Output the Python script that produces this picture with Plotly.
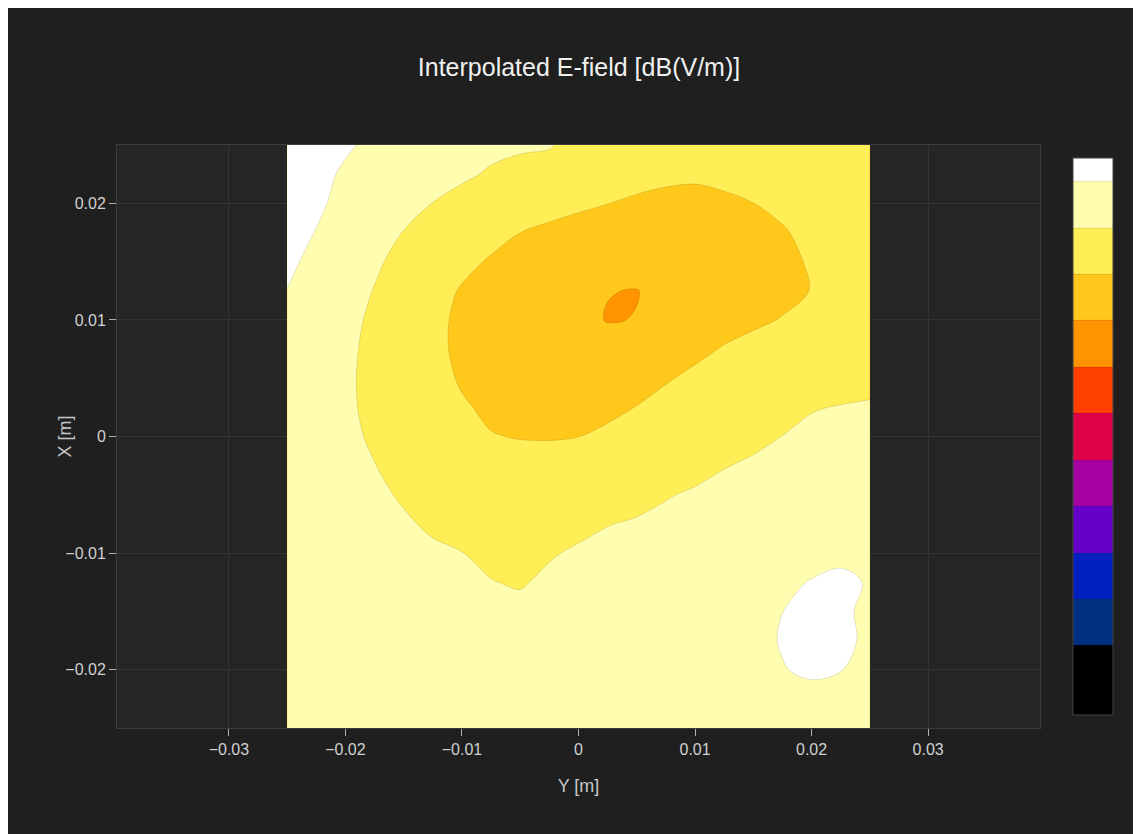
import plotly.graph_objects as go

# Grid positions of the interpolated field (metres)
y_positions_m = [-0.025, -0.0225, -0.02, -0.0175, -0.015, -0.0125, -0.01, -0.0075, -0.005, -0.0025,
                 0.0, 0.0025, 0.005, 0.0075, 0.01, 0.0125, 0.015, 0.0175, 0.02, 0.0225, 0.025]
x_positions_m = [-0.025, -0.0225, -0.02, -0.0175, -0.015, -0.0125, -0.01, -0.0075, -0.005, -0.0025,
                 0.0, 0.0025, 0.005, 0.0075, 0.01, 0.0125, 0.015, 0.0175, 0.02, 0.0225, 0.025]

# E-field [dB(V/m)], rows listed from X = +0.025 m (top) down to X = -0.025 m (bottom),
# columns from Y = -0.025 m (left) to Y = +0.025 m (right)
e_field_rows_top_to_bottom = [
    [43.0, 41.7, 40.5, 39.1, 38.0, 37.1, 36.3, 35.8, 35.5, 35.33, 33.4, 32.8, 32.4, 32.0, 31.9, 32.1, 32.7, 33.3, 33.7, 34.2, 34.6],
    [42.4, 41.1, 39.46, 38.63, 37.6, 36.57, 35.54, 34.64, 33.9, 33.1, 32.2, 31.45, 30.98, 30.6, 30.42, 30.68, 31.3, 31.9, 32.6, 33.3, 34.1],
    [41.8, 40.53, 39.1, 37.74, 36.36, 34.95, 33.9, 32.8, 31.84, 31.08, 30.5, 30.04, 29.55, 29.24, 29.19, 29.52, 29.98, 30.74, 31.57, 32.55, 33.7],
    [41.2, 39.9, 38.21, 36.56, 34.9, 33.6, 32.26, 31.12, 30.01, 29.4, 28.94, 28.5, 28.1, 27.98, 28.13, 28.64, 29.2, 29.72, 30.84, 31.95, 33.1],
    [40.6, 39.2, 37.32, 35.56, 33.89, 32.31, 30.91, 29.65, 29.0, 28.21, 27.54, 26.93, 26.6, 26.81, 27.27, 27.91, 28.59, 29.45, 30.23, 31.48, 32.7],
    [39.95, 38.31, 36.59, 34.86, 33.2, 31.41, 29.7, 29.07, 28.23, 27.39, 26.47, 25.09, 24.9, 26.02, 27.35, 28.15, 28.75, 29.32, 30.07, 31.26, 32.5],
    [38.7, 37.32, 35.93, 34.41, 32.63, 30.7, 29.45, 28.63, 27.74, 26.93, 25.94, 24.85, 25.09, 26.94, 28.02, 28.96, 29.56, 30.12, 30.8, 31.69, 32.6],
    [38.4, 37.0, 35.67, 34.17, 32.52, 30.65, 29.45, 28.66, 27.76, 27.01, 26.6, 26.38, 27.03, 28.2, 29.32, 30.19, 30.77, 31.38, 32.16, 32.6, 33.2],
    [38.2, 36.88, 35.53, 34.11, 32.61, 31.0, 29.7, 29.0, 28.3, 27.76, 27.66, 27.93, 28.62, 29.75, 30.59, 31.35, 32.02, 32.66, 33.38, 33.8, 34.25],
    [38.0, 36.93, 35.58, 34.2, 32.86, 31.49, 30.3, 29.5, 29.05, 28.75, 28.79, 29.29, 30.08, 30.92, 31.75, 32.51, 33.2, 33.9, 34.85, 35.12, 35.27],
    [38.0, 36.86, 35.73, 34.56, 33.33, 32.19, 31.2, 30.12, 29.88, 29.81, 29.98, 30.6, 31.44, 32.17, 32.9, 33.64, 34.32, 35.04, 35.56, 35.99, 36.13],
    [37.9, 36.97, 36.02, 35.07, 33.95, 32.83, 32.0, 31.38, 31.02, 31.17, 31.42, 31.98, 32.77, 33.49, 34.17, 34.88, 35.41, 35.91, 36.38, 36.9, 37.03],
    [37.9, 37.12, 36.34, 35.55, 34.69, 33.7, 33.02, 32.44, 32.21, 32.51, 32.84, 33.39, 34.11, 34.83, 35.33, 35.82, 36.34, 36.83, 37.24, 37.67, 37.9],
    [37.9, 37.26, 36.62, 35.98, 35.34, 34.61, 34.0, 33.47, 33.25, 33.7, 34.27, 34.92, 35.28, 35.67, 36.15, 36.7, 37.26, 37.75, 38.16, 38.5, 38.79],
    [37.95, 37.4, 36.91, 36.41, 35.83, 35.42, 35.05, 34.34, 34.05, 34.75, 35.38, 35.77, 36.0, 36.34, 36.83, 37.43, 38.04, 38.66, 39.11, 39.55, 39.7],
    [38.05, 37.65, 37.2, 36.8, 36.37, 36.01, 35.58, 35.09, 34.75, 35.55, 35.96, 36.3, 36.6, 36.89, 37.42, 38.0, 38.69, 39.49, 40.12, 40.42, 39.85],
    [38.15, 37.77, 37.39, 37.02, 36.7, 36.42, 35.99, 35.7, 35.75, 35.76, 36.3, 36.7, 36.93, 37.34, 37.85, 38.43, 39.11, 39.98, 41.08, 40.55, 39.35],
    [38.2, 37.85, 37.57, 37.28, 37.0, 36.71, 36.41, 36.13, 36.06, 36.2, 36.5, 36.9, 37.24, 37.65, 38.11, 38.66, 39.31, 40.15, 41.36, 40.66, 39.46],
    [38.25, 37.95, 37.7, 37.45, 37.2, 36.98, 36.77, 36.62, 36.58, 36.7, 36.9, 37.2, 37.5, 37.85, 38.2, 38.68, 39.23, 39.9, 40.36, 40.07, 39.15],
    [38.3, 38.0, 37.8, 37.6, 37.4, 37.2, 37.05, 36.95, 36.95, 37.05, 37.2, 37.45, 37.75, 38.05, 38.2, 38.5, 38.75, 39.0, 39.3, 39.15, 38.6],
    [38.35, 38.1, 37.9, 37.7, 37.55, 37.4, 37.3, 37.2, 37.2, 37.3, 37.45, 37.65, 37.9, 38.1, 38.3, 38.45, 38.6, 38.7, 38.75, 38.6, 38.2],
]

# Contour levels and band colours (lowest band first)
contour_start = -10
contour_end = 40
contour_step = 5
colorbar_min = -17.5
colorbar_max = 42.5
band_colors = ["#000000", "#003080", "#0020c0", "#6400c8", "#a500a0", "#e00048",
               "#ff4000", "#ff9400", "#ffc81a", "#ffee55", "#fffdb0", "#ffffff"]

x_tick_values = [-0.03, -0.02, -0.01, 0, 0.01, 0.02, 0.03]
y_tick_values = [-0.02, -0.01, 0, 0.01, 0.02]

colorscale = [[i / (len(band_colors) - 1), c] for i, c in enumerate(band_colors)]

fig = go.Figure(
    go.Contour(
        x=y_positions_m,
        y=x_positions_m,
        z=e_field_rows_top_to_bottom[::-1],
        colorscale=colorscale,
        autocontour=False,
        contours=dict(start=contour_start, end=contour_end, size=contour_step,
                      coloring="fill", showlines=True),
        line=dict(width=0.5, color="rgba(0,0,0,0.22)", smoothing=1.0),
        zmin=colorbar_min,
        zmax=colorbar_max,
        colorbar=dict(
            thickness=40, thicknessmode="pixels",
            len=1, lenmode="fraction",
            x=1.025, xanchor="left", xpad=10,
            y=0.5, yanchor="middle", ypad=13,
            outlinewidth=1, outlinecolor="#444444",
            showticklabels=False, ticks="",
        ),
        hoverinfo="skip",
    )
)

grid_color = "#343434"
fig.update_layout(
    template="none",
    width=1142,
    height=830,
    margin=dict(l=109, r=110, t=137, b=110, pad=0),
    paper_bgcolor="#1f1f1f",
    plot_bgcolor="#252525",
    font=dict(family="Liberation Sans, Arial, sans-serif", size=18, color="#d0d0d0"),
    title=dict(text="Interpolated E-field [dB(V/m)]", x=0.5, xanchor="center",
               y=1 - 59 / 830, yanchor="middle",
               font=dict(size=25, color="#f0f0f0")),
    xaxis=dict(
        title=dict(text="Y [m]", font=dict(size=18, color="#c8c8c8")),
        range=[-0.0396, 0.0396],
        tickvals=x_tick_values,
        tickfont=dict(size=16, color="#d0d0d0"),
        ticks="outside", ticklen=7, tickcolor="#b0b0b0",
        showgrid=True, gridcolor=grid_color, gridwidth=1,
        zeroline=False,
        showline=True, linecolor="#3c3c3c", linewidth=1, mirror=True,
        automargin=False,
    ),
    yaxis=dict(
        title=dict(text="X [m]", font=dict(size=18, color="#c8c8c8")),
        range=[-0.025, 0.025],
        tickvals=y_tick_values,
        tickfont=dict(size=16, color="#d0d0d0"),
        ticks="outside", ticklen=7, tickcolor="#b0b0b0",
        showgrid=True, gridcolor=grid_color, gridwidth=1,
        zeroline=False,
        showline=True, linecolor="#3c3c3c", linewidth=1, mirror=True,
        automargin=False,
    ),
)

fig.write_html("out.html")
